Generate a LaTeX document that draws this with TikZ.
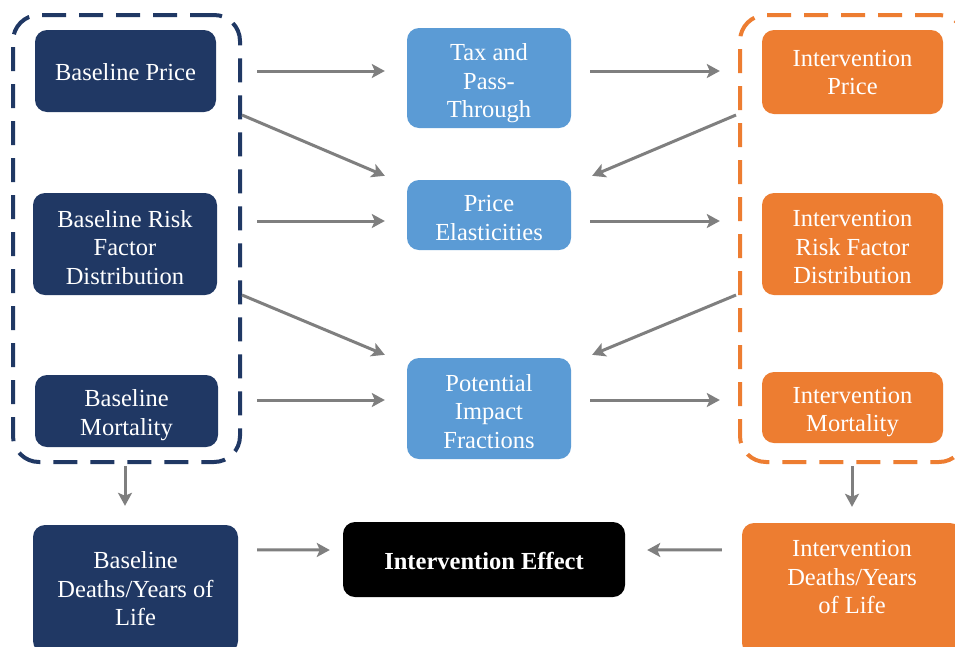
\documentclass[tikz,border=0pt]{standalone}
\usepackage{fontspec}
\setmainfont{Liberation Serif}
\usetikzlibrary{arrows.meta,calc}
\definecolor{navy}{HTML}{203864}
\definecolor{lblue}{HTML}{5B9BD5}
\definecolor{orng}{HTML}{ED7D31}
\definecolor{arrgray}{HTML}{7F7F7F}
\begin{document}
\begin{tikzpicture}[x=1pt,y=-1pt,
  box/.style={rounded corners=12pt, inner sep=0pt},
  lbl/.style={align=center, text=white, inner sep=0pt, font=\fontsize{24.5}{28.5}\selectfont},
  nbox/.style={box, fill=navy},
  lbbox/.style={box, fill=lblue},
  obox/.style={box, fill=orng},
  grpbox/.style={line width=4pt, rounded corners=26pt, dash pattern=on 24pt off 13pt, inner sep=0pt},
  arr/.style={draw=arrgray, line width=3pt, -{Stealth[length=13pt,width=14pt,inset=3pt]}}
]
\useasboundingbox (0,0) rectangle (955,646);
\clip (0,0) rectangle (955,646);
\fill[white] (0,0) rectangle (955,646);

% groups
\node[grpbox, draw=navy, minimum width=227pt, minimum height=447pt] (bgrp) at (126.5,238.5) {};
\node[grpbox, draw=orng, minimum width=225pt, minimum height=447pt] (igrp) at (852.5,238.5) {};

% left column
\node[nbox, minimum width=181pt, minimum height=82pt,
  label={[lbl, yshift=-1pt]center:{Baseline Price}}] (bp) at (125.5,71) {};
\node[nbox, minimum width=184pt, minimum height=102pt,
  label={[lbl, yshift=-3.5pt]center:{Baseline Risk\\Factor\\Distribution}}] (br) at (125,244) {};
\node[nbox, minimum width=183pt, minimum height=72pt,
  label={[lbl, yshift=-4pt]center:{Baseline\\Mortality}}] (bm) at (126.5,411) {};
\node[nbox, minimum width=205pt, minimum height=128pt,
  label={[lbl]center:{Baseline\\Deaths/Years of\\Life}}] (bd) at (135.5,589) {};

% middle column
\node[lbbox, minimum width=164pt, minimum height=100pt,
  label={[lbl, yshift=-5.5pt]center:{Tax and\\Pass-\\Through}}] (tax) at (489,78) {};
\node[lbbox, minimum width=164pt, minimum height=70pt,
  label={[lbl, yshift=-3pt]center:{Price\\Elasticities}}] (pe) at (489,215) {};
\node[lbbox, minimum width=164pt, minimum height=101pt,
  label={[lbl, yshift=-3pt]center:{Potential\\Impact\\Fractions}}] (pif) at (489,408.5) {};
\node[box, fill=black, minimum width=282pt, minimum height=75pt,
  label={[lbl, yshift=-1pt, font=\fontsize{24.5}{28.5}\selectfont\bfseries]center:{Intervention Effect}}] (ie) at (484,559.5) {};

% right column
\node[obox, minimum width=181pt, minimum height=84pt,
  label={[lbl, yshift=-0.5pt]center:{Intervention\\Price}}] (ip) at (852.5,72) {};
\node[obox, minimum width=181pt, minimum height=102pt,
  label={[lbl, yshift=-3.5pt]center:{Intervention\\Risk Factor\\Distribution}}] (ir) at (852.5,244) {};
\node[obox, minimum width=181pt, minimum height=71pt,
  label={[lbl, yshift=-4.5pt]center:{Intervention\\Mortality}}] (im) at (852.5,407.5) {};
\node[obox, minimum width=220pt, minimum height=132pt,
  label={[lbl, yshift=12pt]center:{Intervention\\Deaths/Years\\of Life}}] (idl) at (852,589) {};

% arrows
\draw[arr] ($(bp.east)+(41,0)$) -- ($(tax.west)+(-22,-7)$);
\draw[arr] ($(tax.east)+(19,-7)$) -- ($(ip.west)+(-42,-1)$);
\draw[arr] ($(bgrp.north east)+(0,102)$) -- ($(pe.north west)+(-22,-4)$);
\draw[arr] ($(br.east)+(40,-23)$) -- ($(pe.west)+(-22,6)$);
\draw[arr] ($(pe.east)+(19,6)$) -- ($(ir.west)+(-42,-23)$);
\draw[arr] ($(igrp.north west)+(-2,102)$) -- ($(pe.north east)+(21,-4)$);
\draw[arr] ($(bgrp.north east)+(0,282)$) -- ($(pif.north west)+(-22,-3)$);
\draw[arr] ($(igrp.north west)+(-2,282)$) -- ($(pif.north east)+(21,-3)$);
\draw[arr] ($(bm.east)+(39,-11)$) -- ($(pif.west)+(-22,-8.5)$);
\draw[arr] ($(pif.east)+(19,-8.5)$) -- ($(im.west)+(-42,-7.5)$);
\draw[arr] ($(bd.north east)+(19,25)$) -- ($(ie.west)+(-13,-9.5)$);
\draw[arr] ($(idl.north west)+(-20,27)$) -- ($(ie.east)+(22,-9.5)$);
\draw[arr] ($(bgrp.south)+(-1.5,2)$) -- ($(bd.north)+(-10.5,-19)$);
\draw[arr] ($(igrp.south)+(-0.5,2)$) -- ($(idl.north)+(0,-16)$);
\end{tikzpicture}
\end{document}
